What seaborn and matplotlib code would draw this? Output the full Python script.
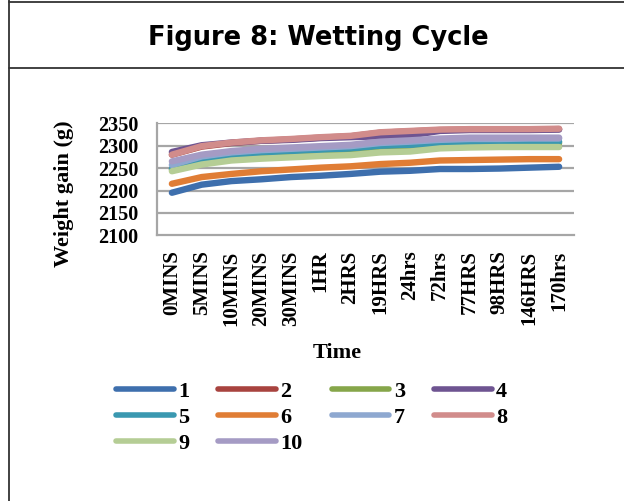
import matplotlib
matplotlib.use("Agg")
import matplotlib.pyplot as plt
from matplotlib.lines import Line2D
import seaborn as sns
import pandas as pd

times = ["0MINS", "5MINS", "10MINS", "20MINS", "30MINS", "1HR", "2HRS",
         "19HRS", "24hrs", "72hrs", "77HRS", "98HRS", "146HRS", "170hrs"]

s1 = [2195, 2213, 2221, 2225, 2230, 2233, 2237, 2242, 2244, 2248, 2248, 2249, 2251, 2253]
s2 = [2280, 2298, 2306, 2311, 2314, 2318, 2321, 2329, 2332, 2335, 2336, 2336, 2336, 2337]
s3 = [2247, 2265, 2275, 2281, 2285, 2288, 2291, 2298, 2300, 2303, 2304, 2305, 2305, 2306]
s4 = [2286, 2301, 2307, 2311, 2313, 2317, 2319, 2321, 2323, 2333, 2335, 2335, 2335, 2336]
s5 = [2249, 2269, 2279, 2285, 2288, 2291, 2294, 2300, 2302, 2305, 2306, 2306, 2308, 2309]
s6 = [2215, 2230, 2237, 2243, 2247, 2251, 2254, 2259, 2262, 2267, 2268, 2269, 2270, 2270]
s7 = [2257, 2276, 2285, 2290, 2293, 2296, 2299, 2306, 2309, 2313, 2315, 2315, 2316, 2316]
s8 = [2280, 2299, 2307, 2312, 2315, 2319, 2322, 2330, 2333, 2336, 2337, 2337, 2337, 2338]
s9 = [2243, 2258, 2267, 2271, 2274, 2277, 2279, 2285, 2287, 2294, 2296, 2297, 2297, 2297]
s10 = [2265, 2280, 2288, 2293, 2296, 2299, 2302, 2309, 2312, 2316, 2318, 2318, 2318, 2318]

series_names = ["1", "2", "3", "4", "5", "6", "7", "8", "9", "10"]
series_values = [s1, s2, s3, s4, s5, s6, s7, s8, s9, s10]
colors = ["#3e6fad", "#a8433f", "#86a64a", "#6e5491", "#3a98b0",
          "#e07d35", "#8ea8d0", "#d18c8b", "#b5cd95", "#a59bc4"]
yticks = [2100, 2150, 2200, 2250, 2300, 2350]

rows = []
for name, vals in zip(series_names, series_values):
    for t, v in zip(times, vals):
        rows.append({"Time": t, "Weight": v, "Series": name})
df = pd.DataFrame(rows)

sns.set_style("white")
serif = ["Liberation Serif", "DejaVu Serif"]
plt.rcParams["font.family"] = serif
plt.rcParams["text.color"] = "black"
plt.rcParams["axes.labelcolor"] = "black"
plt.rcParams["xtick.color"] = "black"
plt.rcParams["ytick.color"] = "black"

W, H = 624, 501
fig = plt.figure(figsize=(W / 100, H / 100), dpi=100)
ax = fig.add_axes([157 / W, 1 - 235.3 / H, (574 - 157) / W, (235.3 - 123.3) / H])

grid_c = "#a6a6a6"
for y in yticks[1:]:
    ax.axhline(y, color=grid_c, lw=1.6, zorder=0)

sns.lineplot(data=df, x="Time", y="Weight", hue="Series", hue_order=series_names,
             palette=colors, sort=False, lw=4.6, ax=ax, legend=True,
             solid_capstyle="round", solid_joinstyle="round")

ax.set_xlim(-0.5, len(times) - 0.5)
ax.set_ylim(2100, 2350)
ax.set_yticks(yticks)
ax.set_yticklabels([str(v) for v in yticks], fontsize=14.5, fontweight="bold")
ax.set_xticks(range(len(times)))
ax.set_xticklabels(times, rotation=90, fontsize=15, fontweight="bold")
ax.set_xticks([i - 0.5 for i in range(len(times) + 1)], minor=True)
ax.tick_params(axis="x", which="major", length=0, pad=11, labelcolor="black")
ax.tick_params(axis="x", which="minor", length=4.5, width=1.4, color=grid_c, direction="out")
ax.tick_params(axis="y", which="major", length=3.6, width=1.4, color=grid_c, pad=10,
               direction="out", labelcolor="black")

for side in ["top", "right"]:
    ax.spines[side].set_visible(False)
for side in ["left", "bottom"]:
    ax.spines[side].set_color(grid_c)
    ax.spines[side].set_linewidth(1.6)

ax.set_ylabel("Weight gain (g)", fontsize=16, fontweight="bold", color="black")
ax.yaxis.label.set_va("center")
ax.yaxis.set_label_coords((64 - 157) / (574 - 157), (235.3 - 194) / 112)
ax.set_xlabel("Time", fontsize=16, fontweight="bold", color="black")
ax.xaxis.label.set_va("center")
ax.xaxis.set_label_coords((337 - 157) / (574 - 157), (235.3 - 353) / 112)

# legend reads across rows: 1-4, 5-8, 9-10
handles, labels = ax.get_legend_handles_labels()
lookup = dict(zip(labels, handles))
order = ["1", "5", "9", "2", "6", "10", "3", "7", "4", "8"]
handles = [lookup[k] for k in order]
for h in handles:
    h.set_linewidth(4)
    h.set_solid_capstyle("round")
leg = ax.legend(handles, order, ncol=4, frameon=False, loc="upper left",
                bbox_to_anchor=(116 / W, 1 - 381 / H), bbox_transform=fig.transFigure,
                handlelength=2.6, handletextpad=0.2, columnspacing=1.3,
                labelspacing=0.25, borderpad=0, borderaxespad=0,
                prop={"family": serif, "weight": "bold", "size": 16})

fig.text(318 / W, 1 - 38 / H, "Figure 8: Wetting Cycle", ha="center", va="center",
         fontsize=18.5, fontweight="bold", family=["DejaVu Sans"], color="black")

border_c = "#333333"
fig.add_artist(Line2D([9 / W, 9 / W], [0, 1], transform=fig.transFigure, color=border_c, lw=1.3))
fig.add_artist(Line2D([9 / W, 1], [1 - 2 / H, 1 - 2 / H], transform=fig.transFigure, color=border_c, lw=1.3))
fig.add_artist(Line2D([9 / W, 1], [1 - 68 / H, 1 - 68 / H], transform=fig.transFigure, color=border_c, lw=1.3))

fig.savefig("out.png", dpi=100)
